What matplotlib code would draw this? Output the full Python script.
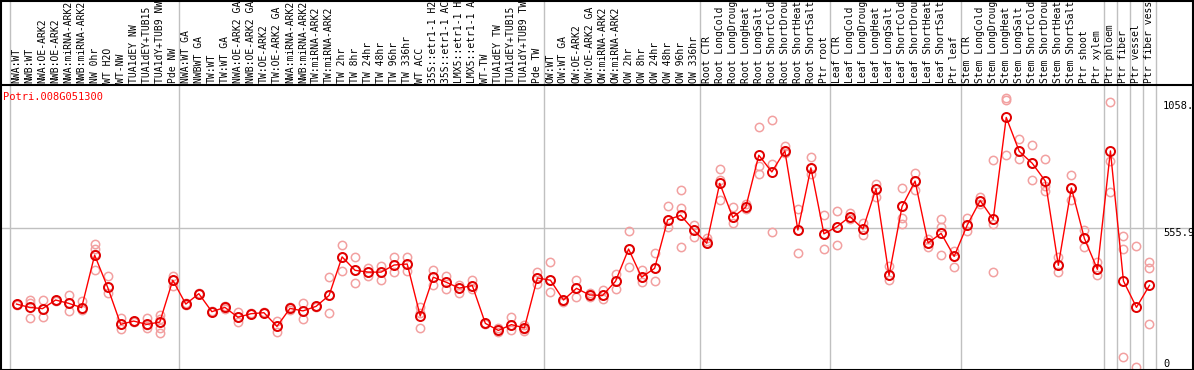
import matplotlib
matplotlib.use('Agg')
import matplotlib.pyplot as plt
import matplotlib.transforms as mtransforms
from matplotlib.patches import Rectangle

# sample labels (grouped, as on the chart)
labels = [
    'NWA:WT', 'NWB:WT', 'NWA:OE-ARK2', 'NWB:OE-ARK2', 'NWA:miRNA-ARK2', 'NWB:miRNA-ARK2',
    'NW 0hr', 'WT H2O', 'WT-NW', 'TUA1dEY NW', 'TUA1dEY+TUB15 NW', 'TUA1dY+TUB9 NW', 'Pde NW',
    'NWA:WT GA', 'NWBWT GA', 'TW:WT', 'TW:WT GA', 'NWA:OE-ARK2 GA', 'NWB:OE-ARK2 GA',
    'TW:OE-ARK2', 'TW:OE-ARK2 GA', 'NWA:miRNA-ARK2', 'NWB:miRNA-ARK2', 'TW:miRNA-ARK2',
    'TW:miRNA-ARK2', 'TW 2hr', 'TW 8hr', 'TW 24hr', 'TW 48hr', 'TW 96hr', 'TW 336hr', 'WT ACC',
    '35S::etr1-1 H2O', '35S::etr1-1 ACC', 'LMX5::etr1-1 H2O', 'LMX5::etr1-1 ACC', 'WT-TW',
    'TUA1dEY TW', 'TUA1dEY+TUB15 TW', 'TUA1dY+TUB9 TW', 'Pde TW',
    'OW:WT', 'OW:WT GA', 'OW:OE-ARK2', 'OW:OE-ARK2 GA', 'OW:miRNA-ARK2', 'OW:miRNA-ARK2',
    'OW 2hr', 'OW 8hr', 'OW 24hr', 'OW 48hr', 'OW 96hr', 'OW 336hr',
    'Root CTR', 'Root LongCold', 'Root LongDrought', 'Root LongHeat', 'Root LongSalt',
    'Root ShortCold', 'Root ShortDrought', 'Root ShortHeat', 'Root ShortSalt', 'Ptr root',
    'Leaf CTR', 'Leaf LongCold', 'Leaf LongDrought', 'Leaf LongHeat', 'Leaf LongSalt',
    'Leaf ShortCold', 'Leaf ShortDrought', 'Leaf ShortHeat', 'Leaf ShortSalt', 'Ptr leaf',
    'Stem CTR', 'Stem LongCold', 'Stem LongDrought', 'Stem LongHeat', 'Stem LongSalt',
    'Stem ShortCold', 'Stem ShortDrought', 'Stem ShortHeat', 'Stem ShortSalt', 'Ptr shoot',
    'Ptr xylem', 'Ptr phloem', 'Ptr fiber', 'Ptr vessel', 'Ptr fiber vessel',
]

# index of first sample in each group
group_starts = [0, 13, 41, 53, 63, 73, 84, 85, 86, 87, 88]

means = [
    256, 243, 238, 272, 259, 242, 449, 322, 176, 189, 176, 185, 350,
    256, 297, 226, 243, 204, 218, 222, 168, 239, 229, 247, 290, 442, 389, 382,
    382, 410, 414, 209, 362, 342, 319, 329, 180, 152, 175, 162, 359,
    350, 272, 318, 292, 290, 346, 473, 362, 397, 588, 606, 548,
    496, 732, 598, 638, 843, 777, 860, 548, 793, 533,
    561, 601, 552, 711, 369, 641, 741, 497, 535, 444,
    567, 664, 590, 992, 858, 811, 741, 409, 714, 515, 393,
    860, 347, 243, 330,
]

replicates = [
    [252, 258, 258], [272, 262, 200], [272, 238, 206], [272, 270, 274], [291, 259, 228],
    [268, 234, 238], [491, 474, 452, 391], [367, 301, 322], [200, 158, 176], [186, 190, 191],
    [203, 160, 172], [213, 197, 160, 143], [367, 350, 328],
    [256, 252, 260], [297, 295, 299], [226, 228, 224], [250, 240, 238], [225, 204, 184],
    [218, 215, 221], [222, 220, 224], [191, 168, 147], [246, 232, 239], [261, 229, 196],
    [247, 245, 249], [363, 290, 220], [489, 442, 385], [440, 389, 341], [398, 382, 368],
    [405, 382, 349], [440, 410, 381], [440, 414, 385], [243, 222, 163], [391, 362, 330],
    [366, 342, 317], [332, 319, 301], [351, 329, 317], [180, 178, 182], [160, 152, 145],
    [205, 175, 153], [173, 160, 151, 156], [381, 359, 335],
    [423, 350, 305], [272, 263, 268], [351, 318, 285], [300, 292, 285], [310, 290, 275],
    [375, 346, 314], [543, 473, 402], [390, 362, 344], [456, 397, 348], [643, 588, 560],
    [706, 635, 480], [568, 548, 520],
    [515, 496, 505], [787, 745, 665], [640, 598, 574], [650, 638, 630], [953, 800, 770],
    [981, 810, 539], [880, 860, 850], [630, 548, 456], [834, 793, 770], [606, 533, 472],
    [623, 561, 489], [615, 601, 590], [575, 552, 528], [730, 711, 677], [405, 369, 350],
    [712, 641, 595, 570], [773, 741, 706], [512, 497, 480], [590, 560, 449], [466, 444, 404],
    [595, 567, 545], [680, 664, 650], [823, 570, 381], [1067, 1062, 843], [905, 858, 830],
    [882, 811, 745], [827, 720, 700], [440, 409, 381], [764, 714, 665], [550, 515, 483],
    [420, 393, 370],
    [1052, 820, 697], [524, 472, 46], [484, 7], [422, 397, 176],
]

gene = 'Potri.008G051300'
y_ticks = [1058, 555.9, 0]
y_tick_labels = ['1058.', '555.9', '0']

W, H = 1194, 370
fig = plt.figure(figsize=(W / 100, H / 100), dpi=100)
ax = fig.add_axes([0, 1 / H, 1156 / W, 284 / H])

step = 13.02
ax.set_xlim(-0.5 - 10 / step, len(labels) - 0.5)
ax.set_ylim(0, 284 * 3.943)
ax.axis('off')

mono = 'DejaVu Sans Mono'

# group separators, running up through the header
for g in group_starts:
    ax.axvline(g - 0.5, ymin=0, ymax=H / 284, color='#c0c0c0', lw=1, clip_on=False, zorder=1)
ax.axhline(555.9, xmin=0, xmax=1193 / 1156, color='#c0c0c0', lw=1, clip_on=False, zorder=1)

# replicates
for i, reps in enumerate(replicates):
    ax.plot([i] * len(reps), reps, 'o', ms=6, mfc='none', mec='#f2a0a0', mew=1.1, zorder=2)

ax.plot(range(len(means)), means, '-', color='red', lw=1, zorder=3)
ax.plot(range(len(means)), means, 'o', ms=6.5, mfc='none', mec='#e00000', mew=1.4, zorder=4)

# rotated sample labels in the header
trans = mtransforms.blended_transform_factory(ax.transData, ax.transAxes)
for i, lab in enumerate(labels):
    ax.text(i, 1 + 2 / 284, lab, rotation=90, ha='center', va='bottom', fontsize=7,
            family=mono, transform=trans, clip_on=False)

# right-hand value labels
trans_r = mtransforms.blended_transform_factory(ax.transAxes, ax.transData)
for v, lab in zip(y_ticks, y_tick_labels):
    ax.text(1163 / 1156, v, lab, ha='left', va='bottom' if v == 0 else 'top', fontsize=7.5,
            family=mono, transform=trans_r, clip_on=False)

fig.text(3 / W, 1 - 97 / H, gene, color='red', fontsize=7.5, family=mono, ha='left', va='center')

# frame and header rule
fig.add_artist(Rectangle((1 / W, 0.5 / H), 1192 / W, 369 / H, transform=fig.transFigure,
                         fill=False, ec='black', lw=1.5))
fig.add_artist(plt.Line2D([0, 1], [1 - 85 / H, 1 - 85 / H], transform=fig.transFigure,
                          color='black', lw=1.5))

fig.savefig('out.png', dpi=100)
